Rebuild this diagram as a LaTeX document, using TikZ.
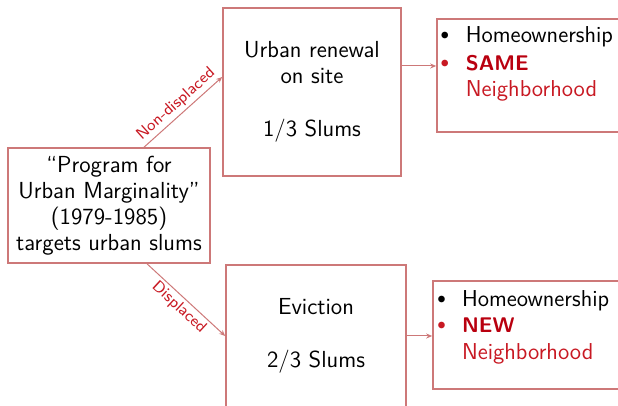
\documentclass[tikz,border=0pt]{standalone}
\usetikzlibrary{arrows.meta}
\definecolor{boxred}{RGB}{205,120,120}
\definecolor{txtred}{RGB}{200,25,35}
\definecolor{darkred}{RGB}{185,0,15}
\begin{document}
\begin{tikzpicture}[x=0.5pt,y=-0.5pt,
 box/.style={draw=boxred, line width=0.8pt, rectangle, inner sep=0pt, font=\sffamily\fontsize{11.6}{13}\selectfont, align=center},
 ltxt/.style={inner sep=0pt, anchor=base west, font=\sffamily\fontsize{11.5}{13}\selectfont},
 bul/.style={inner sep=0pt, anchor=base, font=\sffamily\fontsize{8.5}{10}\selectfont},
 link/.style={draw=boxred, line width=0.5pt, -{Stealth[length=3pt,width=2.5pt]}},
 lbl/.style={font=\sffamily\fontsize{8}{9}\selectfont, text=txtred, sloped, inner sep=1.5pt}]
\useasboundingbox (0,0) rectangle (618,406);
\node[box, minimum width=101pt, minimum height=57.5pt] (prog) at (109,205.5) {``Program for\\Urban Marginality''\\(1979-1985)\\targets urban slums};
\node[box, minimum width=89pt, minimum height=84pt] (urb) at (312,92) {Urban renewal\\on site\\[13.5pt]1/3 Slums};
\node[box, minimum width=90pt, minimum height=71pt] (evi) at (316,336) {Eviction\\[13.5pt]2/3 Slums};
\node[box, minimum width=111.5pt, minimum height=56.5pt] (rtop) at (548.5,75.5) {};
\node[box, minimum width=113.5pt, minimum height=54pt] (rbot) at (546.5,335) {};
\node[bul] (bt1) at (445,40) {$\bullet$};
\node[ltxt] (t1) at (465.5,43) {Homeownership};
\node[bul, text=txtred] (bt2) at (445,68) {$\bullet$};
\node[ltxt, text=darkred] (t2) at (465.5,71) {\fontsize{10.6}{13}\selectfont\bfseries SAME};
\node[ltxt, text=txtred] (t3) at (465.5,97) {Neighborhood};
\node[bul] (bb1) at (441.7,303.7) {$\bullet$};
\node[ltxt] (b1) at (461.7,306.7) {Homeownership};
\node[bul, text=txtred] (bb2) at (441.7,330) {$\bullet$};
\node[ltxt, text=darkred] (b2) at (461.7,333) {\fontsize{10.6}{13}\selectfont\bfseries NEW};
\node[ltxt, text=txtred] (b3) at (461.7,360) {Neighborhood};
\draw[link] ([xshift=17.5pt]prog.north) -- node[lbl, midway, above] (lnd) {Non-displaced} ([yshift=7.5pt]urb.west);
\draw[link] ([xshift=19pt]prog.south) -- node[lbl, midway, below] (ld) {Displaced} (evi.west);
\coordinate (u1) at ([yshift=13pt]urb.east);
\draw[link] (u1) -- (u1 -| rtop.west);
\draw[link] (evi.east) -- (evi.east -| rbot.west);
\end{tikzpicture}
\end{document}
